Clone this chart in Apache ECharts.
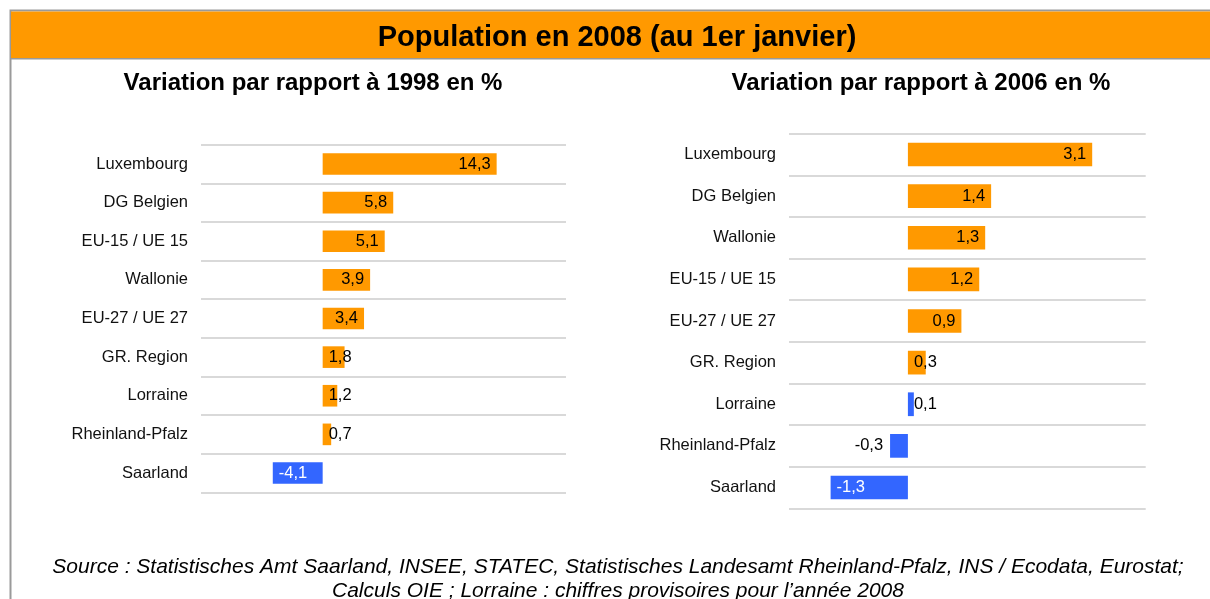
<!DOCTYPE html>
<html>
<head>
<meta charset="utf-8">
<script src="https://cdn.jsdelivr.net/npm/echarts@6/dist/echarts.min.js"></script>
<style>
  html, body { margin: 0; padding: 0; background: #fff; }
  #chart { width: 1210px; height: 599px; }
</style>
</head>
<body>
<div id="chart"></div>
<script>
// données
const mainTitle = "Population en 2008 (au 1er janvier)";
const leftTitle = "Variation par rapport à 1998 en %";
const rightTitle = "Variation par rapport à 2006 en %";
const sourceLines = [
  "Source : Statistisches Amt Saarland, INSEE, STATEC, Statistisches Landesamt Rheinland-Pfalz, INS / Ecodata, Eurostat;",
  "Calculs OIE ; Lorraine : chiffres provisoires pour l’année 2008"
];

const leftCategories = ["Luxembourg", "DG Belgien", "EU-15 / UE 15", "Wallonie", "EU-27 / UE 27", "GR. Region", "Lorraine", "Rheinland-Pfalz", "Saarland"];
const leftValues = [14.3, 5.8, 5.1, 3.9, 3.4, 1.8, 1.2, 0.7, -4.1];

const rightCategories = ["Luxembourg", "DG Belgien", "Wallonie", "EU-15 / UE 15", "EU-27 / UE 27", "GR. Region", "Lorraine", "Rheinland-Pfalz", "Saarland"];
const rightValues = [3.1, 1.4, 1.3, 1.2, 0.9, 0.3, 0.1, -0.3, -1.3];

// barres en bleu
const leftBlue = ["Saarland"];
const rightBlue = ["Lorraine", "Rheinland-Pfalz", "Saarland"];

const ORANGE = "#FF9900";
const BLUE = "#3366FF";
const FONT = "'Liberation Sans', Arial, sans-serif";

function fmt(v) {
  return v.toFixed(1).replace(".", ",");
}

// construit les barres avec la position d'étiquette façon Excel
function buildData(cats, vals, blue, pxPerUnit) {
  return vals.map((v, i) => {
    const isBlue = blue.indexOf(cats[i]) >= 0;
    const w = Math.abs(v) * pxPerUnit;
    let label;
    if (v >= 0) {
      label = w > 36
        ? { position: "insideRight", distance: 6, color: "#000" }
        : { position: "insideLeft", distance: 6, color: "#000" };
    } else {
      label = w > 40
        ? { position: "insideLeft", distance: 6, color: "#fff" }
        : { position: "left", distance: 7, color: "#000" };
    }
    return {
      value: v,
      itemStyle: { color: isBlue ? BLUE : ORANGE },
      label: label
    };
  });
}

const myChart = echarts.init(document.getElementById("chart"), null, { renderer: "canvas" });

const yAxisBase = {
  type: "category",
  inverse: true,
  axisLine: { show: false },
  axisTick: { show: false },
  axisLabel: { color: "#111", fontSize: 16.5, fontFamily: FONT, margin: 13 },
  splitLine: { show: true, interval: 0, lineStyle: { color: "#cccccc", width: 1.5 } }
};

const xAxisBase = {
  type: "value",
  show: true,
  axisLine: { show: false },
  axisTick: { show: false },
  axisLabel: { show: false },
  splitLine: { show: false }
};

myChart.setOption({
  animation: false,
  textStyle: { fontFamily: FONT },
  graphic: [
    { type: "rect", shape: { x: 10.5, y: 10.5, width: 1220, height: 620 }, style: { fill: "#fff", stroke: "#9a9a9a", lineWidth: 2 }, z: -10 },
    { type: "rect", shape: { x: 11, y: 11.5, width: 1220, height: 46.5 }, style: { fill: ORANGE }, z: -9 },
    { type: "rect", shape: { x: 11, y: 58, width: 1220, height: 1.5 }, style: { fill: "#9a9a9a" }, z: -9 },
    { type: "text", x: 617, y: 38, style: { text: mainTitle, font: "bold 29px " + FONT, fill: "#000", align: "center", verticalAlign: "middle" } },
    { type: "text", x: 313, y: 83, style: { text: leftTitle, font: "bold 24px " + FONT, fill: "#000", align: "center", verticalAlign: "middle" } },
    { type: "text", x: 921, y: 83, style: { text: rightTitle, font: "bold 24px " + FONT, fill: "#000", align: "center", verticalAlign: "middle" } },
    { type: "text", x: 618, y: 567, style: { text: sourceLines[0], font: "italic 21px " + FONT, fill: "#000", align: "center", verticalAlign: "middle" } },
    { type: "text", x: 618, y: 591, style: { text: sourceLines[1], font: "italic 21px " + FONT, fill: "#000", align: "center", verticalAlign: "middle" } }
  ],
  grid: [
    { left: 201, width: 365, top: 144.7, height: 347.6 },
    { left: 789, width: 356.7, top: 133.7, height: 374.6 }
  ],
  xAxis: [
    Object.assign({}, xAxisBase, { gridIndex: 0, min: -10, max: 20 }),
    Object.assign({}, xAxisBase, { gridIndex: 1, min: -2, max: 4 })
  ],
  yAxis: [
    Object.assign({}, yAxisBase, { gridIndex: 0, data: leftCategories }),
    Object.assign({}, yAxisBase, { gridIndex: 1, data: rightCategories })
  ],
  series: [
    {
      type: "bar",
      xAxisIndex: 0,
      yAxisIndex: 0,
      barWidth: "56%",
      data: buildData(leftCategories, leftValues, leftBlue, 365 / 30),
      label: { show: true, fontSize: 16.5, fontFamily: FONT, formatter: p => fmt(p.value) }
    },
    {
      type: "bar",
      xAxisIndex: 1,
      yAxisIndex: 1,
      barWidth: "57%",
      data: buildData(rightCategories, rightValues, rightBlue, 356.7 / 6),
      label: { show: true, fontSize: 16.5, fontFamily: FONT, formatter: p => fmt(p.value) }
    }
  ]
});

window.addEventListener("resize", () => {
  myChart.resize();
});
</script>
</body>
</html>
